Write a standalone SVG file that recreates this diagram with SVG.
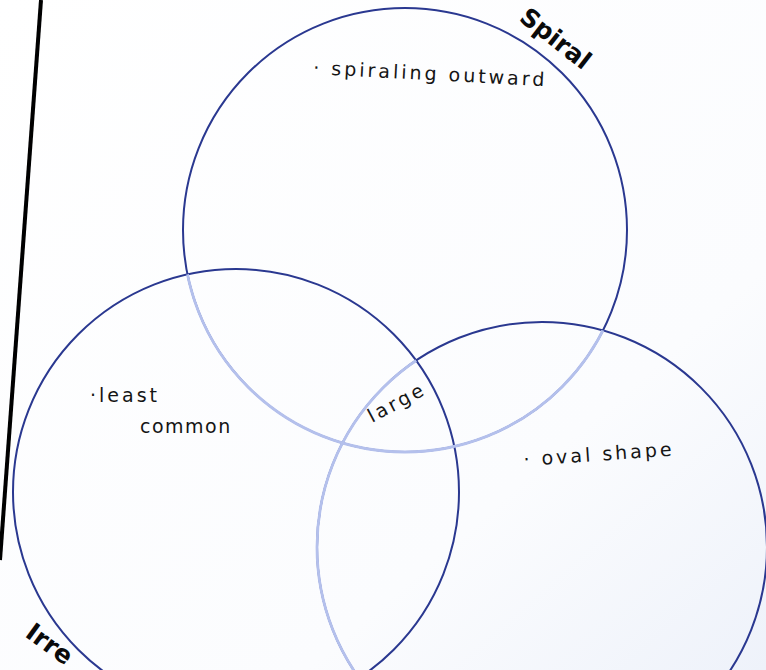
<svg xmlns="http://www.w3.org/2000/svg" width="766" height="670" viewBox="0 0 766 670">
<defs>
<style>
.dark{fill:none;stroke:#2a3890;stroke-width:2}
.light{fill:none;stroke:#b4c0ec;stroke-width:2.8}
.hand{font-family:"DejaVu Sans","Liberation Sans",sans-serif;font-size:19px;fill:#151515;letter-spacing:3px}
.title{font-family:"DejaVu Sans",sans-serif;font-weight:bold;font-size:25px;fill:#0a0a0a}
</style>
<clipPath id="inLeft"><circle cx="236" cy="492" r="223"/></clipPath>
<clipPath id="inLR"><circle cx="236" cy="492" r="223"/><circle cx="542" cy="547" r="225"/></clipPath>
<linearGradient id="bg" x1="0" y1="0" x2="1" y2="1">
<stop offset="0" stop-color="#ffffff"/>
<stop offset="0.7" stop-color="#fbfcfe"/>
<stop offset="1" stop-color="#eef2fa"/>
</linearGradient>
</defs>
<rect width="766" height="670" fill="url(#bg)"/>
<line x1="41" y1="0" x2="0" y2="560" stroke="#000" stroke-width="4"/>
<g id="connectors"/>
<g id="irregular">
<circle class="dark" cx="236" cy="492" r="223"/>
<text class="title" font-family="DejaVu Sans Mono" transform="translate(24,636) rotate(36)">Irre</text>
</g>
<g id="elliptical">
<circle class="dark" cx="542" cy="547" r="225"/>
<circle class="light" cx="542" cy="547" r="225" clip-path="url(#inLeft)"/>
</g>
<g id="spiral">
<circle class="dark" cx="405" cy="230" r="222"/>
<circle class="light" cx="405" cy="230" r="222" clip-path="url(#inLR)"/>
<text class="title" transform="translate(518,20) rotate(38)">Spiral</text>
</g>
<g id="labels">
<text class="hand" transform="translate(313,74) rotate(3)">· spiraling  outward</text>
<text class="hand" x="90" y="402">·least</text>
<text class="hand" x="140" y="433" style="letter-spacing:1.5px">common</text>
<text class="hand" transform="translate(372,423) rotate(-28)">large</text>
<text class="hand" transform="translate(524,466) rotate(-4)">· oval  shape</text>
</g>
</svg>
